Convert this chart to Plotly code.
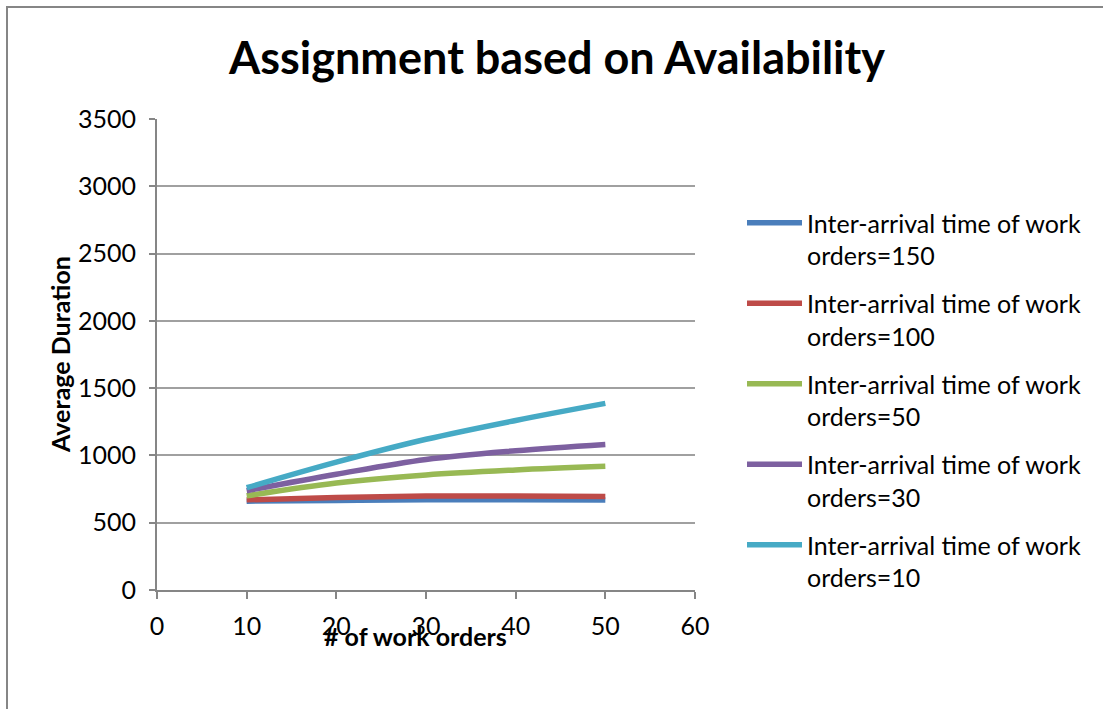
import plotly.graph_objects as go

x_orders = [10, 20, 30, 40, 50]
series_names = [
    "Inter-arrival time of work<br>orders=150",
    "Inter-arrival time of work<br>orders=100",
    "Inter-arrival time of work<br>orders=50",
    "Inter-arrival time of work<br>orders=30",
    "Inter-arrival time of work<br>orders=10",
]
ia_150 = [660, 666, 671, 671, 668]
ia_100 = [670, 688, 698, 698, 695]
ia_50 = [700, 795, 855, 892, 919]
ia_30 = [738, 860, 970, 1035, 1082]
ia_10 = [760, 950, 1120, 1260, 1387]
colors = ["#4a7ebb", "#be4b48", "#98b954", "#7d60a0", "#46aac5"]
x_ticks = [0, 10, 20, 30, 40, 50, 60]
y_ticks = [0, 500, 1000, 1500, 2000, 2500, 3000, 3500]

FONT = "Lato, 'Open Sans', sans-serif"

fig = go.Figure()
for i, (name, vals, c) in enumerate(zip(series_names, [ia_150, ia_100, ia_50, ia_30, ia_10], colors)):
    fig.add_trace(go.Scatter(x=x_orders, y=vals, mode="lines", name=name, legendgroup=f"g{i}",
                             line=dict(color=c, width=5.5, shape="spline", smoothing=1.0)))

W, H = 1103, 709
L, R, T, B = 157, 695, 119, 590
pw, ph = R - L, B - T

fig.update_layout(
    width=W, height=H,
    margin=dict(l=L, r=W - R, t=T, b=H - B, pad=0),
    paper_bgcolor="white", plot_bgcolor="white",
    font=dict(family=FONT, color="black", size=25),
    title=dict(text="<b>Assignment based on Availability</b>", x=557 / W, xanchor="center",
               y=1 - 58 / H, yanchor="middle", font=dict(size=45, family=FONT, color="black")),
    xaxis=dict(range=[0, 60], tickvals=x_ticks, showgrid=False,
               showline=True, linecolor="#868686", linewidth=2, ticks="outside", ticklen=7,
               tickcolor="#868686", tickwidth=2, tickfont=dict(size=25), zeroline=False,
               ticklabelstandoff=6),
    yaxis=dict(range=[0, 3500], tickvals=y_ticks,
               showgrid=True, gridcolor="#a0a0a0", gridwidth=2,
               showline=True, linecolor="#868686", linewidth=2, ticks="outside", ticklen=6,
               tickcolor="#868686", tickwidth=2, tickfont=dict(size=25), zeroline=False,
               ticklabelstandoff=8),
    legend=dict(x=(742 - L) / pw, xanchor="left", y=(B - 200) / ph, yanchor="top",
                font=dict(size=25), tracegroupgap=12.5, itemwidth=55, valign="top",
                bgcolor="rgba(0,0,0,0)"),
    showlegend=True,
)

# axis titles (Excel places them overlapping the tick labels)
fig.add_annotation(text="<b># of work orders</b>", xref="paper", yref="paper",
                   x=(415 - L) / pw, y=(B - 636) / ph, xanchor="center", yanchor="middle",
                   showarrow=False, font=dict(size=25))
fig.add_annotation(text="<b>Average Duration</b>", xref="paper", yref="paper",
                   x=(60 - L) / pw, y=(B - 355) / ph, xanchor="center", yanchor="middle",
                   textangle=-90, showarrow=False, font=dict(size=25))

# outer chart frame
fig.add_shape(type="rect", xref="paper", yref="paper",
              x0=(7 - L) / pw, x1=(1300 - L) / pw, y0=(B - 900) / ph, y1=(B - 7) / ph,
              line=dict(color="#868686", width=2), fillcolor="rgba(0,0,0,0)", layer="below")

fig.write_html("out.html", config={"displayModeBar": False},
               post_script="document.body.style.margin='0';")
